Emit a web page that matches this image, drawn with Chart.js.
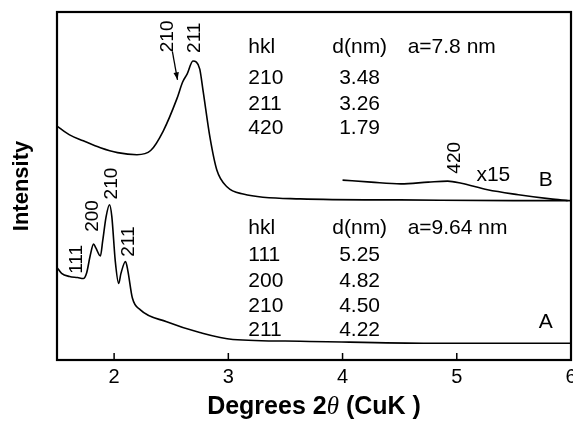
<!DOCTYPE html>
<html>
<head>
<meta charset="utf-8">
<script src="https://cdn.jsdelivr.net/npm/chart.js@4.4.0/dist/chart.umd.min.js"></script>
<style>
  html, body { margin: 0; padding: 0; background: #fff; }
  #wrap { width: 573px; height: 425px; }
</style>
</head>
<body>
<div id="wrap"><canvas id="xrd"></canvas></div>
<script>
// x axis tick values (degrees 2theta)
const xTicks = [2, 3, 4, 5, 6];

// curve B (upper pattern)
const bTheta = [1.5, 1.61, 1.73, 1.88, 2.03, 2.2, 2.32, 2.43, 2.55, 2.6, 2.64, 2.69, 2.72, 2.75, 2.78, 2.84, 2.9, 2.99, 3.13, 3.63, 4.5, 5.5, 6.0];
const bIntensity = [67.2, 64.7, 63.0, 61.0, 59.6, 59.0, 60.2, 65.8, 75.1, 79.9, 82.2, 85.9, 85.6, 83.6, 77.1, 63.8, 54.5, 49.7, 47.7, 46.3, 46.0, 45.8, 45.8];

// curve B, 4-6 deg region magnified x15
const b15Theta = [4.0, 4.25, 4.51, 4.75, 4.92, 5.04, 5.27, 5.54, 5.82, 5.97];
const b15Intensity = [51.7, 51.1, 50.6, 51.1, 51.4, 50.8, 48.9, 47.5, 46.3, 45.8];

// curve A (lower pattern)
const aTheta = [1.5, 1.54, 1.61, 1.68, 1.73, 1.76, 1.79, 1.82, 1.84, 1.88, 1.9, 1.93, 1.96, 1.98, 2.01, 2.04, 2.06, 2.1, 2.12, 2.16, 2.23, 2.46, 2.75, 3.04, 3.63, 4.77, 6.0];
const aIntensity = [26.6, 24.9, 24.0, 23.7, 23.4, 25.1, 29.9, 33.3, 32.2, 29.9, 34.2, 41.2, 44.6, 41.2, 28.5, 22.0, 24.9, 28.3, 25.7, 17.8, 14.4, 11.0, 7.9, 5.9, 5.4, 4.8, 4.8];

// hkl tables
const hklB = ['210', '211', '420'];
const dB = ['3.48', '3.26', '1.79'];
const hklA = ['111', '200', '210', '211'];
const dA = ['5.25', '4.82', '4.50', '4.22'];

function toPoints(xs, ys) {
    return xs.map((x, i) => ({ x: x, y: ys[i] }));
}

const FONT = '"Liberation Sans", Arial, sans-serif';

// peak labels, rotated, anchored in data space
const peakLabels = [
    { text: '210', x: 2.47, y: 93.0 },
    { text: '211', x: 2.71, y: 92.6 },
    { text: '111', x: 1.67, y: 28.9 },
    { text: '200', x: 1.81, y: 41.4 },
    { text: '210', x: 1.98, y: 50.7 },
    { text: '211', x: 2.13, y: 34.0 },
    { text: '420', x: 4.98, y: 58.1 }
];

const annotations = {
    id: 'annotations',
    afterDraw(chart) {
        const ctx = chart.ctx;
        const xs = chart.scales.x;
        const ys = chart.scales.y;
        const area = chart.chartArea;
        const px = v => xs.getPixelForValue(v);
        const py = v => ys.getPixelForValue(v);

        ctx.save();
        ctx.fillStyle = '#000';
        ctx.strokeStyle = '#000';

        // frame
        ctx.lineWidth = 2.2;
        ctx.strokeRect(area.left, area.top, area.right - area.left, area.bottom - area.top);

        // inward ticks on bottom axis
        ctx.lineWidth = 1.5;
        xTicks.forEach(t => {
            const x = px(t);
            ctx.beginPath();
            ctx.moveTo(x, area.bottom);
            ctx.lineTo(x, area.bottom - 7);
            ctx.stroke();
        });

        // rotated peak labels
        ctx.font = '19px ' + FONT;
        ctx.textAlign = 'center';
        ctx.textBaseline = 'middle';
        peakLabels.forEach(l => {
            ctx.save();
            ctx.translate(px(l.x), py(l.y));
            ctx.rotate(-Math.PI / 2);
            ctx.fillText(l.text, 0, 0);
            ctx.restore();
        });

        // arrow from B 210 label to shoulder
        const x0 = px(2.51), y0 = py(88.7), x1 = px(2.555), y1 = py(80.5);
        ctx.lineWidth = 1.3;
        ctx.beginPath();
        ctx.moveTo(x0, y0);
        ctx.lineTo(x1, y1);
        ctx.stroke();
        const ang = Math.atan2(y1 - y0, x1 - x0);
        ctx.beginPath();
        ctx.moveTo(x1, y1);
        ctx.lineTo(x1 - 8 * Math.cos(ang - 0.35), y1 - 8 * Math.sin(ang - 0.35));
        ctx.lineTo(x1 - 8 * Math.cos(ang + 0.35), y1 - 8 * Math.sin(ang + 0.35));
        ctx.closePath();
        ctx.fill();

        // tables
        ctx.font = '21px ' + FONT;
        ctx.textAlign = 'left';
        ctx.fillText('hkl', px(3.175), py(89.8));
        ctx.fillText('d(nm)', px(3.91), py(89.8));
        ctx.fillText('a=7.8 nm', px(4.57), py(89.8));
        const rowsB = [81.0, 73.6, 66.5];
        hklB.forEach((h, i) => {
            ctx.fillText(h, px(3.175), py(rowsB[i]));
            ctx.fillText(dB[i], px(3.97), py(rowsB[i]));
        });
        ctx.fillText('hkl', px(3.175), py(38.0));
        ctx.fillText('d(nm)', px(3.91), py(38.0));
        ctx.fillText('a=9.64 nm', px(4.57), py(38.0));
        const rowsA = [30.1, 22.7, 15.6, 8.5];
        hklA.forEach((h, i) => {
            ctx.fillText(h, px(3.175), py(rowsA[i]));
            ctx.fillText(dA[i], px(3.97), py(rowsA[i]));
        });

        // curve tags
        ctx.textAlign = 'center';
        ctx.fillText('x15', px(5.32), py(53.0));
        ctx.fillText('B', px(5.78), py(51.8));
        ctx.fillText('A', px(5.78), py(10.8));

        // y axis title
        ctx.font = 'bold 22px ' + FONT;
        ctx.save();
        ctx.translate(22, (area.top + area.bottom) / 2);
        ctx.rotate(-Math.PI / 2);
        ctx.fillText('Intensity', 0, 0);
        ctx.restore();

        // x axis title with italic theta
        const parts = [
            { t: 'Degrees 2', f: 'bold 25px ' + FONT },
            { t: '\u03b8', f: 'italic 25px "Liberation Serif", serif' },
            { t: ' (CuK )', f: 'bold 25px ' + FONT }
        ];
        let total = 0;
        parts.forEach(p => { ctx.font = p.f; p.w = ctx.measureText(p.t).width; total += p.w; });
        let cx = (area.left + area.right) / 2 - total / 2;
        ctx.textAlign = 'left';
        parts.forEach(p => {
            ctx.font = p.f;
            ctx.fillText(p.t, cx, 407);
            cx += p.w;
        });
        ctx.restore();
    }
};

const lineStyle = {
    borderColor: '#000',
    borderWidth: 1.6,
    pointRadius: 0,
    fill: false,
    cubicInterpolationMode: 'monotone'
};

new Chart(document.getElementById('xrd'), {
    type: 'line',
    data: {
        datasets: [
            Object.assign({ label: 'B', data: toPoints(bTheta, bIntensity) }, lineStyle),
            Object.assign({ label: 'B x15', data: toPoints(b15Theta, b15Intensity) }, lineStyle),
            Object.assign({ label: 'A', data: toPoints(aTheta, aIntensity) }, lineStyle)
        ]
    },
    options: {
        responsive: true,
        maintainAspectRatio: false,
        animation: false,
        layout: { padding: { left: 57, right: 2, top: 12, bottom: 31 } },
        plugins: {
            legend: { display: false },
            tooltip: { enabled: false }
        },
        scales: {
            x: {
                type: 'linear',
                min: 1.5,
                max: 6,
                afterBuildTicks: axis => { axis.ticks = xTicks.map(v => ({ value: v })); },
                afterFit: axis => { axis.paddingLeft = 0; axis.paddingRight = 0; },
                grid: { display: false, drawTicks: false },
                border: { display: false },
                ticks: {
                    color: '#000',
                    padding: 5,
                    maxRotation: 0,
                    font: { family: FONT, size: 20 }
                }
            },
            y: {
                min: 0,
                max: 100,
                display: false
            }
        }
    },
    plugins: [annotations]
});
</script>
</body>
</html>
